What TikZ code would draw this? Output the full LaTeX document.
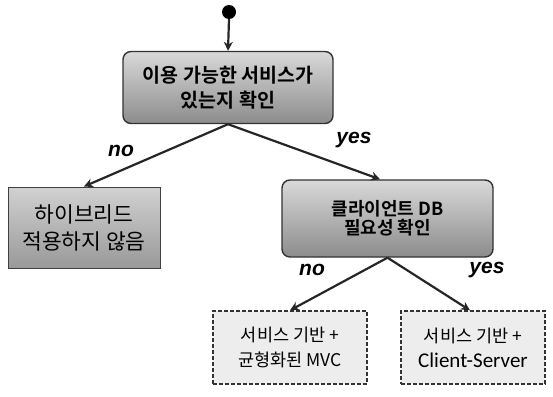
\documentclass[tikz,border=0pt]{standalone}
\usepackage{fontspec}
\setmainfont{Carlito}
\newfontfamily\kr{Noto Sans CJK KR}[BoldFont={Noto Sans CJK KR Bold}]
\newfontfamily\lab{Liberation Sans}
\usetikzlibrary{arrows.meta}
\begin{document}
\begin{tikzpicture}[x=1pt,y=-1pt,
  conn/.style={line width=2.2pt,-{Stealth[length=9pt,width=9pt]},draw=black!85},
  decision/.style={draw=black!80,line width=1.4pt,rounded corners=8pt,top color=black!15,bottom color=black!45,minimum width=210pt,minimum height=72pt,align=center},
  plainbox/.style={draw=black!75,line width=1pt,top color=black!18,bottom color=black!40,align=center},
  resultbox/.style={draw=black!80,line width=1.3pt,dashed,dash pattern=on 4pt off 2pt,fill=black!7,align=center},
  lbl/.style={font=\lab\fontsize{21}{22}\selectfont\bfseries\itshape}
]
\useasboundingbox (0,0) rectangle (553,396);
\fill[black] (229,12) circle (7pt);
\coordinate (start) at (229,19);
\node[decision,font=\kr\bfseries\fontsize{19.5}{25}\selectfont] (q1) at (228,87.5) {이용 가능한 서비스가\\ 있는지 확인};
\node[plainbox,minimum width=152pt,minimum height=81pt,font=\kr\fontsize{21.5}{27}\selectfont] (nohy) at (84,227.5) {하이브리드\\ 적용하지 않음};
\node[decision,minimum width=211pt,minimum height=77pt,font=\kr\bfseries\fontsize{18}{19}\selectfont] (q2) at (387.5,218.5) {클라이언트 DB\\ 필요성 확인};
\node[resultbox,minimum width=154pt,minimum height=73pt,font=\kr\fontsize{17.5}{25}\selectfont] (mvc) at (290,347.5) {서비스 기반 +\\ 균형화된 MVC};
\node[resultbox,minimum width=144pt,minimum height=73pt,font=\kr\fontsize{17.5}{25}\selectfont] (cs) at (473,347.5) {서비스 기반 +\\ {\rmfamily\fontsize{21}{25}\selectfont Client-Server}};
\draw[conn] (start) -- (q1.north);
\draw[conn] (q1.south) -- (nohy.north);
\draw[conn] (q1.south) -- (q2.north -| 380,0);
\draw[conn] (q2.south) -- (mvc.north);
\draw[conn] (q2.south) -- (cs.north -| 470,0);
\node[lbl] (l1) at (121,151) {no};
\node[lbl] (l2) at (354,140) {yes};
\node[lbl] (l3) at (312,270) {no};
\node[lbl] (l4) at (487,270) {yes};
\end{tikzpicture}
\end{document}
